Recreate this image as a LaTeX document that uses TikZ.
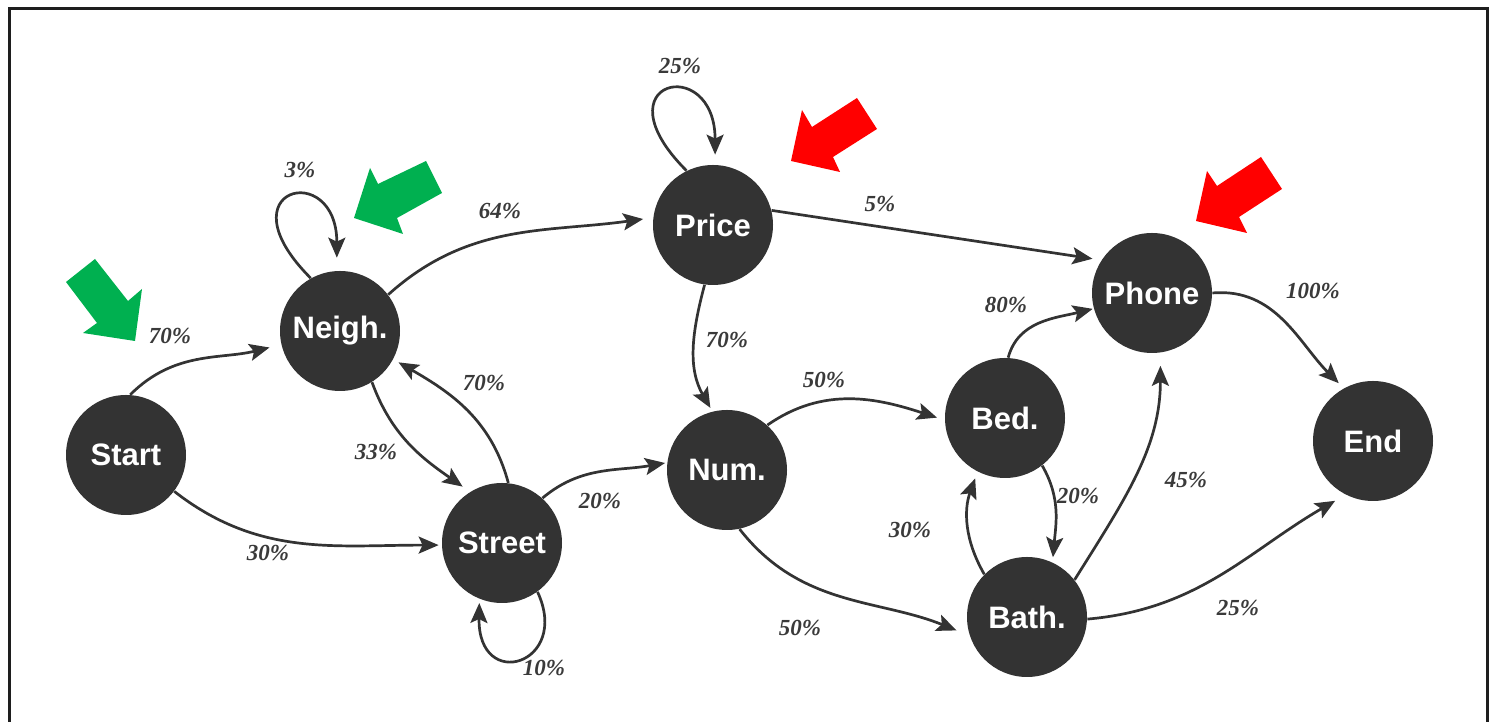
\documentclass[tikz,border=0pt]{standalone}
\usepackage{fontspec}
\setmainfont{Liberation Sans}
\newfontfamily\lblfont{Liberation Serif}
\usetikzlibrary{arrows.meta}
\definecolor{nodegray}{HTML}{333333}
\definecolor{labelgray}{HTML}{3A3A3A}
\definecolor{framegray}{HTML}{1E1E1E}
\definecolor{hintgreen}{HTML}{00B050}
\definecolor{hintred}{HTML}{FF0000}
\begin{document}
\begin{tikzpicture}[x=0.5pt,y=0.5pt,
  state/.style={circle,fill=nodegray,minimum size=60pt,inner sep=0pt,text=white,
    font=\fontsize{15.5}{18}\selectfont\bfseries},
  edge/.style={draw=nodegray,line width=1.35pt,
    -{Stealth[length=10pt,width=8.5pt,inset=2pt]}},
  pct/.style={text=labelgray,font=\lblfont\fontsize{11.5}{13}\selectfont\bfseries\itshape},
  greenhint/.style={fill=hintgreen,draw=none},
  redhint/.style={fill=hintred,draw=none}]
\useasboundingbox (0,0) rectangle (1490,722);
\clip (0,0) rectangle (1490,722);
% frame (open at the bottom)
\draw[framegray,line width=1.5pt] (9.5,-20) rectangle (1487,713.5);

% states
\node[state] (start) at (126,267) {Start};
\node[state] (neigh) at (340,391) {Neigh.};
\node[state] (price) at (713,497) {Price};
\node[state] (street) at (502,179) {Street};
\node[state] (num) at (727,252) {Num.};
\node[state] (bed) at (1005,304) {Bed.};
\node[state] (phone) at (1152,429) {Phone};
\node[state] (bath) at (1027,105) {Bath.};
\node[state] (endn) at (1373,281) {End};

% transitions
\draw[edge,shorten >=6pt] (start.86) to[out=45,in=194] (neigh.193);
\draw[edge,shorten >=1.5pt] (start.-37) to[out=-38,in=180] (street.182);
\draw[edge,shorten >=6.5pt] (neigh.119) to[out=135,in=90,out distance=64pt,in distance=56pt] (neigh.93);
\draw[edge,shorten >=5pt] (neigh.37) to[out=42,in=188] (price.173);
\draw[edge,shorten >=4.5pt] (neigh.-58) to[out=-70,in=145] (street.122);
\draw[edge,shorten >=3pt] (street.84) to[out=105,in=-30] (neigh.-28);
\draw[edge,shorten >=2pt] (street.-54.5) to[out=-65,in=-91,out distance=40pt,in distance=47pt] (street.-112);
\draw[edge,shorten >=1pt] (street.48) to[out=40,in=190] (num.173);
\draw[edge,shorten >=5pt] (price.116) to[out=135,in=90,out distance=64pt,in distance=56pt] (price.88);
\draw[edge,shorten >=4.5pt] (price.14) -- (phone.147);
\draw[edge,shorten >=2pt] (price.-98) to[out=-105,in=120] (num.104);
\draw[edge,shorten >=4pt] (num.48) to[out=35,in=162] (bed.182.5);
\draw[edge,shorten >=7pt] (num.-78) to[out=-52,in=158] (bath.198);
\draw[edge,shorten >=0.5pt] (bed.87) to[out=75,in=194] (phone.195);
\draw[edge,shorten >=2.5pt] (bed.-52) to[out=-60,in=85] (bath.65);
\draw[edge,shorten >=3.5pt] (bath.135) to[out=120,in=250] (bed.-117);
\draw[edge,shorten >=6.5pt] (bath.38) to[out=58,in=-90] (phone.-82);
\draw[edge,shorten >=6pt] (bath.-2) to[out=5,in=210] (endn.-117);
\draw[edge,shorten >=3.5pt] (phone.0) to[out=5,in=135] (endn.119);

% transition probabilities
\node[pct] (p1) at (170,386) {70\%};
\node[pct] (p2) at (268,169) {30\%};
\node[pct] (p3) at (300,552) {3\%};
\node[pct] (p4) at (500,511) {64\%};
\node[pct] (p5) at (376,270) {33\%};
\node[pct] (p6) at (484,339) {70\%};
\node[pct] (p7) at (544,54) {10\%};
\node[pct] (p8) at (600,221) {20\%};
\node[pct] (p9) at (680,656) {25\%};
\node[pct] (p10) at (880,518) {5\%};
\node[pct] (p11) at (727,382) {70\%};
\node[pct] (p12) at (824,342) {50\%};
\node[pct] (p13) at (800,94) {50\%};
\node[pct] (p14) at (1006,417) {80\%};
\node[pct] (p15) at (1078,226) {20\%};
\node[pct] (p16) at (910,192) {30\%};
\node[pct] (p17) at (1186,242) {45\%};
\node[pct] (p18) at (1238,114) {25\%};
\node[pct] (p19) at (1313,431) {100\%};

% highlight arrows
\fill[greenhint] (66,440) -- (95,463) -- (128,421) -- (142,433) -- (135,381) -- (83,389) -- (97,399) -- cycle;
\fill[greenhint] (426,561) -- (442,529) -- (397,504) -- (403,488) -- (354,504) -- (370,554) -- (378,538) -- cycle;
\fill[redhint] (857,624) -- (877,593) -- (833,565) -- (840,550) -- (791,561) -- (802,612) -- (812,595) -- cycle;
\fill[redhint] (1261,565) -- (1282,533) -- (1239,505) -- (1247,489) -- (1196,501) -- (1207,551) -- (1217,536) -- cycle;
\end{tikzpicture}
\end{document}
